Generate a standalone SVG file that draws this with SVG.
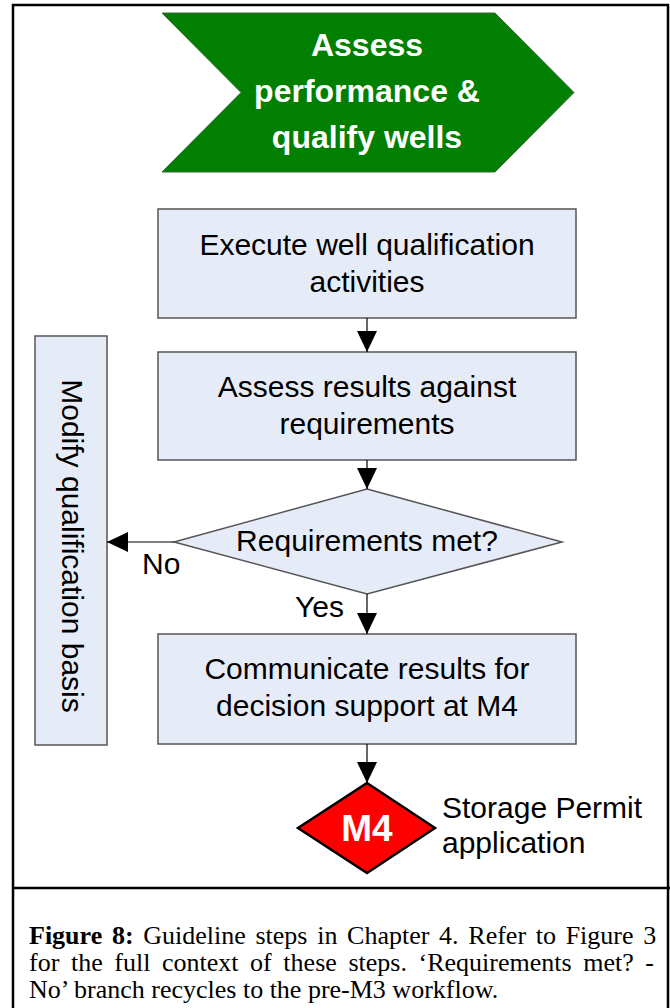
<svg xmlns="http://www.w3.org/2000/svg" width="670" height="1008" viewBox="0 0 670 1008">
<style>
.box{fill:#e6ecf7;stroke:#555;stroke-width:1.5}
.t{font-family:"Liberation Sans",Arial,sans-serif;font-size:30px;fill:#000;text-anchor:middle}
.tl{font-family:"Liberation Sans",Arial,sans-serif;font-size:30px;fill:#000}
.w{font-family:"Liberation Sans",Arial,sans-serif;font-weight:bold;fill:#fff;text-anchor:middle}
.cap{font-family:"Liberation Serif","Times New Roman",serif;font-size:26px;fill:#000}
.conn{stroke:#000;stroke-width:1.2;fill:none;marker-end:url(#ah)}
.frame{stroke:#000;stroke-width:2.5;fill:none}
</style>
<defs>
<marker id="ah" markerUnits="userSpaceOnUse" markerWidth="21" markerHeight="20" refX="21" refY="10" orient="auto">
<path d="M0,0 L21,10 L0,20 z" fill="#000"/>
</marker>
</defs>
<rect width="670" height="1008" fill="#fff"/>
<g id="frame">
<path class="frame" d="M13,1008 V5 H668 V1008"/>
<line class="frame" x1="13" y1="888" x2="670" y2="888"/>
</g>
<g id="title">
<polygon points="162,13 495,13 574,92.5 495,172 162,172 241,92.5" fill="#007f00" stroke="#3a6a3a" stroke-width="1"/>
<text class="w" font-size="32" x="367" y="56">Assess</text>
<text class="w" font-size="32" x="367" y="102">performance &amp;</text>
<text class="w" font-size="32" x="367" y="148">qualify wells</text>
</g>
<g id="execute">
<rect class="box" x="158" y="209" width="418" height="109"/>
<text class="t" x="367" y="255">Execute well qualification</text>
<text class="t" x="367" y="292">activities</text>
</g>
<g id="assess">
<rect class="box" x="158" y="352" width="418" height="108"/>
<text class="t" x="367" y="397">Assess results against</text>
<text class="t" x="367" y="434">requirements</text>
</g>
<g id="decision">
<polygon class="box" points="367,489 562,542 367,594 174,542"/>
<text class="t" x="367" y="551">Requirements met?</text>
</g>
<g id="communicate">
<rect class="box" x="158" y="634" width="418" height="110"/>
<text class="t" x="367" y="679">Communicate results for</text>
<text class="t" x="367" y="716">decision support at M4</text>
</g>
<g id="modify">
<rect class="box" x="35" y="336" width="72" height="409"/>
<text class="t" transform="translate(62,546) rotate(90)" x="0" y="0">Modify qualification basis</text>
</g>
<g id="m4">
<polygon points="367,783 435,828 367,873 298,828" fill="#ff0000" stroke="#000" stroke-width="2.5"/>
<text class="w" font-size="37" x="367" y="841">M4</text>
<text class="tl" x="442" y="818">Storage Permit</text>
<text class="tl" x="442" y="853">application</text>
</g>
<g id="connectors">
<line class="conn" x1="367" y1="318" x2="367" y2="352"/>
<line class="conn" x1="367" y1="460" x2="367" y2="489"/>
<line class="conn" x1="174" y1="542" x2="107" y2="542"/>
<line class="conn" x1="367" y1="594" x2="367" y2="634"/>
<line class="conn" x1="367" y1="744" x2="367" y2="783"/>
<text class="tl" x="142" y="574">No</text>
<text class="tl" x="295" y="617">Yes</text>
</g>
<g id="caption">
<text class="cap" x="29" y="944" word-spacing="3.2"><tspan font-weight="bold">Figure 8:</tspan> Guideline steps in Chapter 4. Refer to Figure 3</text>
<text class="cap" x="29" y="971" word-spacing="5.1">for the full context of these steps. ‘Requirements met? -</text>
<text class="cap" x="29" y="998">No’ branch recycles to the pre-M3 workflow.</text>
</g>
</svg>
